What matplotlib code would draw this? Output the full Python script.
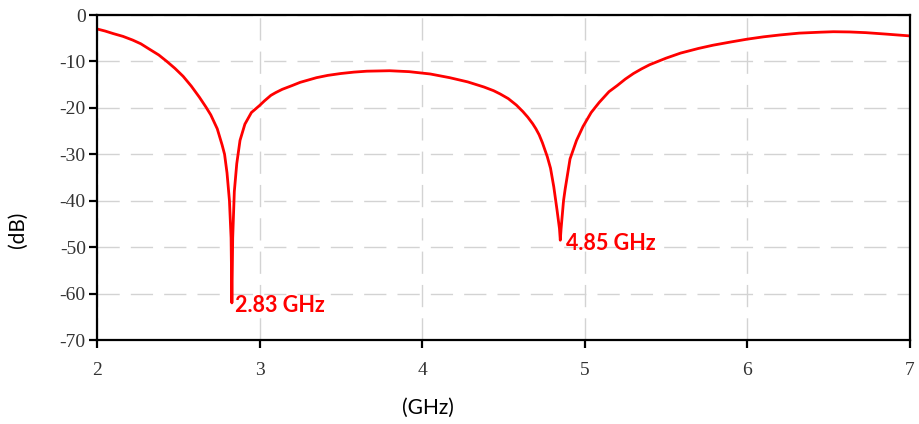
import matplotlib
matplotlib.use("Agg")
import matplotlib.pyplot as plt

# frequency (GHz) and S11 (dB)
freq = [2.00, 2.05, 2.10, 2.16, 2.22, 2.27, 2.32, 2.38, 2.43, 2.48, 2.53, 2.58,
        2.63, 2.67, 2.70, 2.74, 2.77, 2.785, 2.80, 2.815, 2.825, 2.83, 2.835,
        2.845, 2.86, 2.88, 2.91, 2.95, 3.00, 3.03, 3.07, 3.10, 3.14, 3.20, 3.25,
        3.35, 3.42, 3.50, 3.58, 3.66, 3.80, 3.92, 4.05, 4.17, 4.28, 4.38, 4.44,
        4.48, 4.53, 4.58, 4.62, 4.65, 4.68, 4.70, 4.72, 4.74, 4.77, 4.79, 4.81,
        4.83, 4.845, 4.85, 4.855, 4.87, 4.88, 4.91, 4.95, 4.99, 5.04, 5.09, 5.15,
        5.20, 5.25, 5.30, 5.35, 5.40, 5.45, 5.50, 5.59, 5.70, 5.79, 5.90, 6.00,
        6.10, 6.20, 6.32, 6.45, 6.53, 6.63, 6.73, 6.85, 7.00]
s11 = [-3.0, -3.45, -4.0, -4.6, -5.4, -6.2, -7.3, -8.6, -10.0, -11.5, -13.2, -15.3,
       -17.7, -19.8, -21.5, -24.5, -28.0, -30.0, -34.0, -40.0, -48.0, -62.0, -48.0,
       -38.0, -32.0, -27.0, -23.5, -21.0, -19.5, -18.5, -17.3, -16.7, -16.0, -15.2, -14.5,
       -13.5, -13.0, -12.6, -12.3, -12.1, -12.0, -12.2, -12.7, -13.5, -14.4, -15.5, -16.3,
       -17.0, -18.0, -19.4, -20.8, -22.0, -23.4, -24.5, -25.8, -27.5, -30.5, -33.0, -37.0,
       -42.0, -46.0, -48.5, -46.0, -40.0, -37.5, -31.0, -27.0, -24.0, -21.0, -18.8, -16.5,
       -15.2, -13.8, -12.6, -11.6, -10.7, -10.0, -9.3, -8.2, -7.2, -6.5, -5.8, -5.2,
       -4.7, -4.3, -3.9, -3.7, -3.6, -3.65, -3.8, -4.1, -4.5]

xticks = [2, 3, 4, 5, 6, 7]
yticks = [0, -10, -20, -30, -40, -50, -60, -70]
marks = [(2.849, -62.5, "2.83 GHz"), (4.884, -49.1, "4.85 GHz")]


def main():
    fig = plt.figure(figsize=(9.19, 4.24), dpi=100, facecolor="white")
    ax = fig.add_axes([0.1055, 0.198, 0.8845, 0.7666])

    ax.plot(freq, s11, color="#ff0000", linewidth=2.0, solid_joinstyle="round")

    ax.set_xlim(2, 7)
    ax.set_ylim(-70, 0)
    ax.set_xticks(xticks)
    ax.set_yticks(yticks)
    ax.set_xticklabels([str(t) for t in xticks])
    ax.set_yticklabels([str(t) for t in yticks])

    # grid discontinuo gris claro
    ax.grid(True, color="#d3d3d3", linestyle=(0, (16, 8)), linewidth=1.0)
    ax.set_axisbelow(True)

    for s in ax.spines.values():
        s.set_linewidth(1.6)
        s.set_color("black")

    ax.tick_params(axis="both", direction="out", length=6, width=1.6, color="black")
    ax.tick_params(axis="x", pad=10)
    ax.tick_params(axis="y", pad=2)
    for lab in ax.get_xticklabels() + ax.get_yticklabels():
        lab.set_family("Liberation Serif")
        lab.set_fontsize(14)
        lab.set_color("#333333")

    fig.text(0.0196, 0.458, "(dB)", rotation=90, ha="center", va="center",
             fontsize=15, family="Lato", color="black")
    fig.text(0.466, 0.038, "(GHz)", ha="center", va="center",
             fontsize=15, family="Lato", color="black")

    for x, y, t in marks:
        ax.text(x, y, t, color="#ff0000", fontsize=15.5, fontweight="bold",
                family="Lato", ha="left", va="center")

    fig.savefig("out.png", dpi=100)


if __name__ == "__main__":
    main()
